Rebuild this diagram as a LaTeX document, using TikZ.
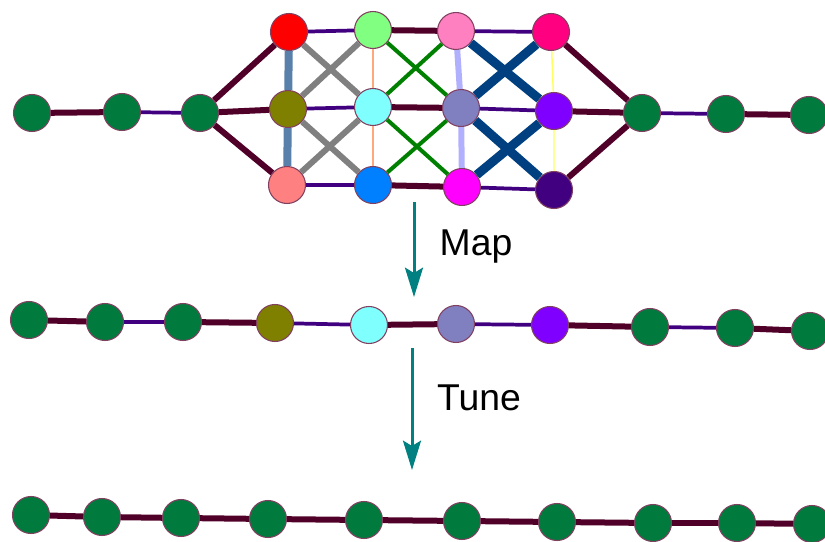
\documentclass[tikz,border=0pt]{standalone}
\usepackage{fontspec}
\setmainfont{Liberation Sans}
\usetikzlibrary{arrows.meta}

\definecolor{gnode}{RGB}{0,122,61}
\definecolor{vrim}{RGB}{128,64,96}
\definecolor{wine}{RGB}{80,0,40}
\definecolor{ink}{RGB}{64,0,128}
\definecolor{steel}{RGB}{88,128,170}
\definecolor{peach}{RGB}{255,168,128}
\definecolor{lilac}{RGB}{176,176,255}
\definecolor{navyE}{RGB}{0,64,128}
\definecolor{lemon}{RGB}{255,255,96}
\definecolor{tealA}{RGB}{0,128,128}

\tikzset{
	vtx/.style={circle, draw=vrim, line width=0.8pt, minimum size=27.75pt, inner sep=0pt},
	heavy/.style={draw=wine, line width=4.5pt},
	light/.style={draw=ink, line width=2.8pt},
	flow/.style={draw=tealA, line width=2.25pt, -{Stealth[length=22pt, width=13.5pt, inset=4pt]}},
	lbl/.style={font=\fontsize{28}{32}\selectfont, inner sep=0pt}
}

\begin{document}
\begin{tikzpicture}[x=0.75pt, y=-0.75pt]
	\useasboundingbox (0,0) rectangle (825,542);

	% top: chain, 3x4 grid, chain
	\node[vtx, fill=gnode] (g1) at (32,113) {};
	\node[vtx, fill=gnode] (g2) at (122,112) {};
	\node[vtx, fill=gnode] (g3) at (200,113) {};
	\node[vtx, fill={rgb,255:red,255;green,0;blue,0}] (a1) at (289,32) {};
	\node[vtx, fill={rgb,255:red,128;green,128;blue,0}] (a2) at (288,109) {};
	\node[vtx, fill={rgb,255:red,255;green,128;blue,128}] (a3) at (287,185) {};
	\node[vtx, fill={rgb,255:red,128;green,255;blue,128}] (b1) at (373,30) {};
	\node[vtx, fill={rgb,255:red,128;green,255;blue,255}] (b2) at (373,107) {};
	\node[vtx, fill={rgb,255:red,0;green,128;blue,255}] (b3) at (373,185) {};
	\node[vtx, fill={rgb,255:red,255;green,128;blue,192}] (c1) at (456,31) {};
	\node[vtx, fill={rgb,255:red,128;green,128;blue,192}] (c2) at (461,108) {};
	\node[vtx, fill={rgb,255:red,255;green,0;blue,255}] (c3) at (462,187) {};
	\node[vtx, fill={rgb,255:red,255;green,0;blue,128}] (d1) at (551,32) {};
	\node[vtx, fill={rgb,255:red,128;green,0;blue,255}] (d2) at (554,111) {};
	\node[vtx, fill={rgb,255:red,64;green,0;blue,128}] (d3) at (554,190) {};
	\node[vtx, fill=gnode] (g4) at (642,113) {};
	\node[vtx, fill=gnode] (g5) at (726,114) {};
	\node[vtx, fill=gnode] (g6) at (809,115) {};

	\draw[heavy] (g1) -- (g2);
	\draw[light] (g2) -- (g3);
	\draw[heavy] (g3) -- (a1);
	\draw[heavy] (g3) -- (a2);
	\draw[heavy] (g3) -- (a3);
	\draw[draw=steel, line width=6pt] (a1) -- (a2) -- (a3);
	\draw[light] (a1) -- (b1);
	\draw[light] (a2) -- (b2);
	\draw[light] (a3) -- (b3);
	\draw[gray, line width=4.5pt] (a1) -- (b2) (a2) -- (b1) (a2) -- (b3) (a3) -- (b2);
	\draw[draw=peach, line width=1.5pt] (b1) -- (b2) -- (b3);
	\draw[heavy] (b1) -- (c1);
	\draw[heavy] (b2) -- (c2);
	\draw[heavy] (b3) -- (c3);
	\draw[draw=green!50!black, line width=3pt] (b1) -- (c2) (b2) -- (c1) (b2) -- (c3) (b3) -- (c2);
	\draw[draw=lilac, line width=4.5pt] (c1) -- (c2) -- (c3);
	\draw[light] (c1) -- (d1);
	\draw[light] (c2) -- (d2);
	\draw[light] (c3) -- (d3);
	\draw[draw=navyE, line width=6.75pt] (c1) -- (d2) (c2) -- (d1) (c2) -- (d3) (c3) -- (d2);
	\draw[draw=lemon, line width=1.1pt] (d1) -- (d2) -- (d3);
	\draw[heavy] (d1) -- (g4);
	\draw[heavy] (d2) -- (g4);
	\draw[heavy] (d3) -- (g4);
	\draw[light] (g4) -- (g5);
	\draw[heavy] (g5) -- (g6);

	% middle chain
	\node[vtx, fill=gnode] (m1) at (29,320) {};
	\node[vtx, fill=gnode] (m2) at (105,322) {};
	\node[vtx, fill=gnode] (m3) at (183,322) {};
	\node[vtx, fill={rgb,255:red,128;green,128;blue,0}] (m4) at (275,323) {};
	\node[vtx, fill={rgb,255:red,128;green,255;blue,255}] (m5) at (369,325) {};
	\node[vtx, fill={rgb,255:red,128;green,128;blue,192}] (m6) at (456,324) {};
	\node[vtx, fill={rgb,255:red,128;green,0;blue,255}] (m7) at (550,325) {};
	\node[vtx, fill=gnode] (m8) at (650,327) {};
	\node[vtx, fill=gnode] (m9) at (735,328) {};
	\node[vtx, fill=gnode] (m10) at (810,331) {};
	\foreach \i/\j in {1/2,3/4,5/6,7/8,9/10}
		\draw[heavy] (m\i) -- (m\j);
	\foreach \i/\j in {2/3,4/5,6/7,8/9}
		\draw[light] (m\i) -- (m\j);

	% bottom chain
	\foreach \i/\x/\y in {1/31/515, 2/102/517, 3/181/518, 4/268/519, 5/364/520,
		6/462/521, 7/557/522, 8/653/523, 9/737/523, 10/812/524}
		\node[vtx, fill=gnode] (n\i) at (\x,\y) {};
	\foreach \i [count=\j from 2] in {1,...,9}
		\draw[heavy] (n\i) -- (n\j);

	\coordinate (mapS) at (414,202);
	\coordinate (mapE) at (414,297);
	\coordinate (tuneS) at (412,348);
	\coordinate (tuneE) at (412,470);
	\draw[flow] (mapS) -- (mapE);
	\draw[flow] (tuneS) -- (tuneE);
	\node[lbl] (map) at (476,247) {Map};
	\node[lbl] (tune) at (479,398) {Tune};
\end{tikzpicture}
\end{document}
